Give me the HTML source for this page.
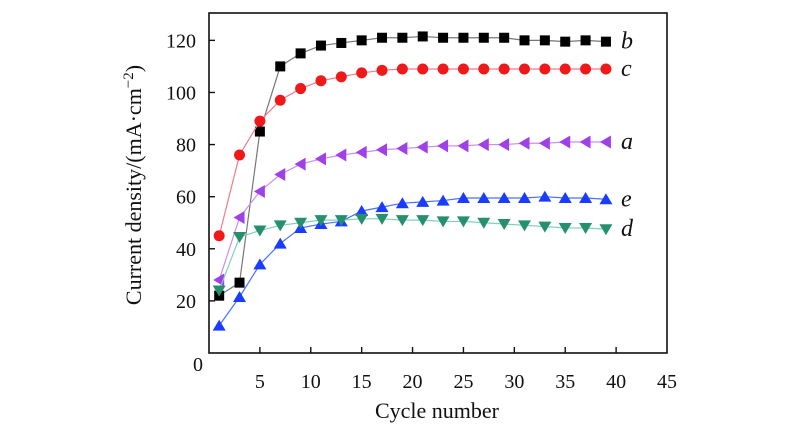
<!DOCTYPE html>
<html><head><meta charset="utf-8"><style>
body{margin:0;background:#fff;width:800px;height:435px;overflow:hidden}
text{font-family:"Liberation Serif",serif;fill:#111}
</style></head><body>
<svg id="chart" width="800" height="435" viewBox="0 0 800 435"></svg>
<script>
const cycles=[1,3,5,7,9,11,13,15,17,19,21,23,25,27,29,31,33,35,37,39];
const seriesB=[22,27,85,110,115,118,119,120,121,121,121.5,121,121,121,121,120,120,119.5,120,119.5];
const seriesC=[45,76,89,97,101.5,104.5,106,107.5,108.5,109,109,109,109,109,109,109,109,109,109,109];
const seriesA=[28,52,62,68.5,72.5,74.5,76,77,78,78.5,79,79.5,79.5,80,80,80.5,80.5,81,81,81];
const seriesE=[10.5,21.5,34,42,48,49.5,50.5,54.5,56,57.5,58,58.5,59.5,59.5,59.5,59.5,60,59.5,59.5,59];
const seriesD=[24,44.5,47,49,50,51,51,51.5,51.5,51,51,50.5,50.5,50,49.5,49,48.5,48,48,47.5];
const xTicks=[0,5,10,15,20,25,30,35,40,45];
const yTicks=[0,20,40,60,80,100,120];
const L=209,R=667,T=13,B=353,XMAX=45,YMAX=130.5;
const sx=v=>L+(v/XMAX)*(R-L), sy=v=>B-(v/YMAX)*(B-T);
const svg=document.getElementById('chart');const NS='http://www.w3.org/2000/svg';
function mk(t,a,p){const e=document.createElementNS(NS,t);for(const k in a)e.setAttribute(k,a[k]);(p||svg).appendChild(e);return e;}
const box=mk('rect',{x:L,y:T,width:R-L,height:B-T,fill:'none',stroke:'#111','stroke-width':1.6});

xTicks.forEach(v=>{const x=sx(v);
 if(v>0&&v<45){const t=mk('line',{x1:x,x2:x,y1:B,y2:B-6,stroke:'#111','stroke-width':1.4});}
 if(v>0){const l=mk('text',{x:x,y:388,'text-anchor':'middle','font-size':20});l.textContent=v;}
});
yTicks.forEach(v=>{const y=sy(v);
 if(v>0){const t=mk('line',{x1:L,x2:L+6,y1:y,y2:y,stroke:'#111','stroke-width':1.4});}
 const l=mk('text',{x:v===0?203:196,y:v===0?371:y+7,'text-anchor':'end','font-size':20});l.textContent=v;
});
const xt=mk('text',{x:437,y:418,'text-anchor':'middle','font-size':22});xt.textContent='Cycle number';

const yt=mk('text',{x:0,y:0,'text-anchor':'middle','font-size':22,transform:'translate(141,185) rotate(-90)'});
yt.innerHTML='Current density/(mA·cm<tspan dy="-8" font-size="15">−2</tspan><tspan dy="8">)</tspan>';

function marker(type,x,y,color,g){const s=5;let e;
 if(type==='sq')e=mk('rect',{x:x-s,y:y-s,width:2*s,height:2*s,fill:color},g);
 else if(type==='ci')e=mk('circle',{cx:x,cy:y,r:5.5,fill:color},g);
 else if(type==='up')e=mk('polygon',{points:`${x},${y-6} ${x-6.5},${y+5} ${x+6.5},${y+5}`,fill:color},g);
 else if(type==='dn')e=mk('polygon',{points:`${x},${y+6} ${x-6.5},${y-5} ${x+6.5},${y-5}`,fill:color},g);
 else e=mk('polygon',{points:`${x-6},${y} ${x+5},${y-6.5} ${x+5},${y+6.5}`,fill:color},g);
 return e;}
const defs=[
 ['b',seriesB,'sq','#000','#777'],['c',seriesC,'ci','#f01818','#f07a90'],
 ['a',seriesA,'lt','#a040e8','#c890f0'],['e',seriesE,'up','#1a3cff','#4a70ff'],
 ['d',seriesD,'dn','#26906e','#7fd0b8']];
defs.forEach(([name,vals,m,col,lc])=>{
 const g=mk('g',{});
 const pl=mk('polyline',{points:cycles.map((c,i)=>sx(c)+','+sy(vals[i])).join(' '),fill:'none',stroke:lc,'stroke-width':1.2},g);
 
 cycles.forEach((c,i)=>{const e=marker(m,sx(c),sy(vals[i]),col,g);});
 const lab=mk('text',{x:621,y:sy(vals[vals.length-1])+7,'font-size':24,'font-style':'italic'});lab.textContent=name;
 
});
</script>
</body></html>
